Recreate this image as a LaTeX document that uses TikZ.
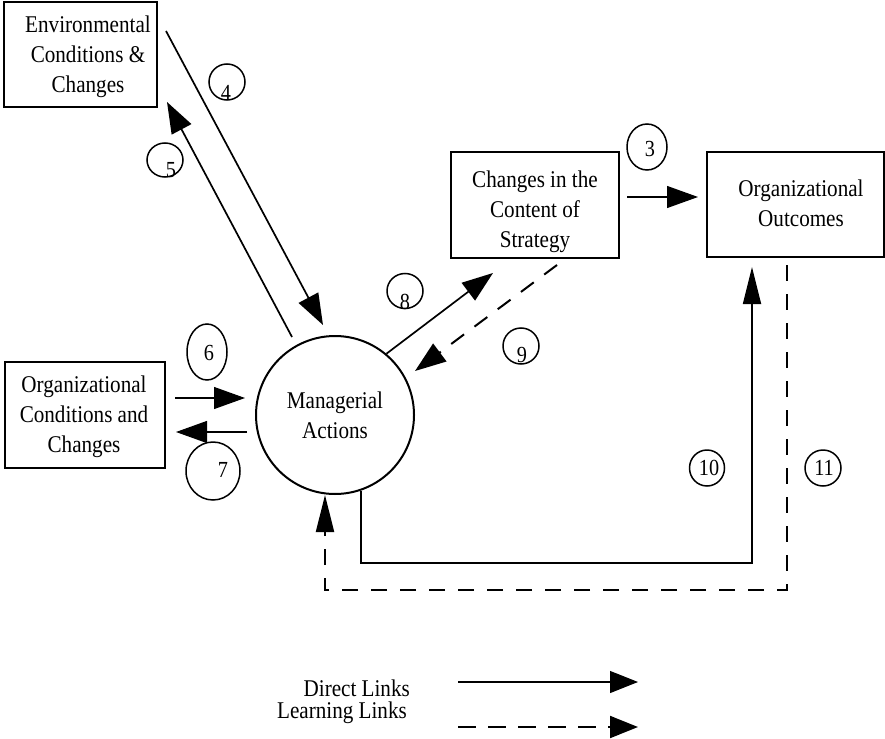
\documentclass[tikz,border=0pt]{standalone}
\usepackage{fontspec}
\setmainfont{Liberation Serif}[FakeStretch=0.88]
\usetikzlibrary{arrows.meta,shapes.geometric}
\begin{document}
\begin{tikzpicture}[x=1pt,y=-1pt,
  txt/.style={inner sep=0pt, align=center, font=\fontsize{24}{30}\selectfont},
  box/.style={draw, line width=2pt, inner sep=0pt},
  numc/.style={draw, ellipse, line width=1.5pt, inner sep=0pt},
  numt/.style={inner sep=0pt, font=\fontsize{23}{24}\selectfont},
  link/.style={line width=1.7pt, -{Triangle[length=31pt,width=22pt]}},
  thinlink/.style={line width=1.1pt, -{Triangle[length=31pt,width=22pt]}},
  learn/.style={line width=2pt, dash pattern=on 16pt off 13pt, -{Triangle[length=31pt,width=22pt]}},
  vhead/.style={-{Triangle[length=37pt,width=18pt]}},
]
\useasboundingbox (0,0) rectangle (885,738);

% boxes
\node[box, minimum width=153pt, minimum height=105pt] (env) at (80.5,54.5) {};
\node[txt] (env-t) at (88,56.5) {Environmental\\Conditions \&\\Changes};

\node[box, minimum width=168pt, minimum height=106pt] (strat) at (535,205) {};
\node[txt] (strat-t) at (535,212) {Changes in the\\Content of\\Strategy};

\node[box, minimum width=177pt, minimum height=105pt] (out) at (795.5,204.5) {};
\node[txt] (out-t) at (801,203.5) {Organizational\\Outcomes};

\node[box, minimum width=160pt, minimum height=106pt] (orgc) at (85,415) {};
\node[txt] (orgc-t) at (84,416.5) {Organizational\\Conditions and\\Changes};

\node[draw, circle, line width=2pt, minimum size=158pt, inner sep=0pt, txt] (mgr) at (335,415) {Managerial\\Actions};

% number circles
\node[numc, minimum width=40pt, minimum height=46pt] (c3) at (647,147) {};
\node[numt] (t3) at (650,149) {3};
\node[numc, minimum width=36pt, minimum height=36pt] (c4) at (227,82) {};
\node[numt] (t4) at (226,93) {4};
\node[numc, minimum width=36pt, minimum height=34pt] (c5) at (165,160) {};
\node[numt] (t5) at (171,170) {5};
\node[numc, minimum width=40pt, minimum height=56pt] (c6) at (207,352) {};
\node[numt] (t6) at (209,353) {6};
\node[numc, minimum width=54pt, minimum height=58pt] (c7) at (213,471) {};
\node[numt] (t7) at (223,470) {7};
\node[numc, minimum width=36pt, minimum height=35pt] (c8) at (405,291) {};
\node[numt] (t8) at (405,302) {8};
\node[numc, minimum width=36pt, minimum height=36pt] (c9) at (521,346) {};
\node[numt] (t9) at (522,355) {9};
\node[numc, minimum width=35pt, minimum height=36pt] (c10) at (707,468) {};
\node[numt] (t10) at (709,468) {10};
\node[numc, minimum width=36pt, minimum height=36pt] (c11) at (823,468) {};
\node[numt] (t11) at (824,468) {11};

% connector end points
\coordinate (p3s) at (627,197);  \coordinate (p3e) at (698,197);
\coordinate (p4s) at (166,31);   \coordinate (p4e) at (323,325);
\coordinate (p5s) at (292,337);  \coordinate (p5e) at (167,102);
\coordinate (p6s) at (175,398);  \coordinate (p6e) at (245,398);
\coordinate (p7s) at (247,432);  \coordinate (p7e) at (176,432);
\coordinate (p8e) at (493,273);
\coordinate (p9s) at (557,265);  \coordinate (p9e) at (415,371);
\coordinate (k10) at (752,563);  \coordinate (p10e) at (752,267);
\coordinate (p11s) at (787,265); \coordinate (k11) at (787,590);
\coordinate (p11e) at (325,495);

% connectors
\draw[thinlink] (p3s) -- (p3e);
\draw[link] (p4s) -- (p4e);
\draw[link] (p5s) -- (p5e);
\draw[thinlink] (p6s) -- (p6e);
\draw[thinlink] (p7s) -- (p7e);
\draw[link] (mgr.50) -- (p8e);
\draw[learn] (p9s) -- (p9e);
\draw[link, vhead] (mgr.-71) -- (mgr.-71 |- k10) -- (k10) -- (p10e);
\draw[learn, vhead] (p11s) -- (k11) -- (k11 -| p11e) -- (p11e);

% legend
\node[txt, anchor=base east, text height=15pt, text depth=2pt] (lg1) at (410,696) {Direct Links};
\node[txt, anchor=base east, text height=15pt, text depth=5pt] (lg2) at (407,718) {Learning Links};
\coordinate (l1s) at (458,682); \coordinate (l1e) at (638,682);
\coordinate (l2s) at (458,727); \coordinate (l2e) at (638,727);
\draw[line width=1.1pt, -{Triangle[length=28pt,width=22pt]}] (l1s) -- (l1e);
\draw[line width=2pt, dash pattern=on 18pt off 12pt, -{Triangle[length=28pt,width=22pt]}] (l2s) -- (l2e);
\end{tikzpicture}
\end{document}
